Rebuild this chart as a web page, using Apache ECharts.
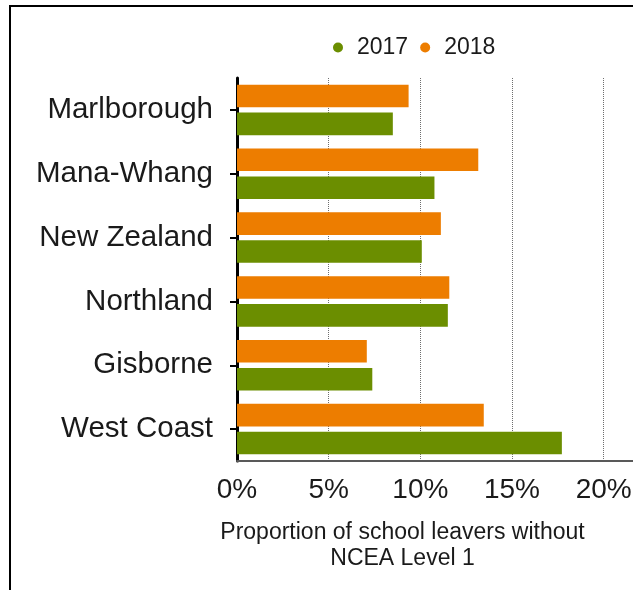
<!DOCTYPE html>
<html>
<head>
<meta charset="utf-8">
<script src="https://cdn.jsdelivr.net/npm/echarts@6/dist/echarts.min.js"></script>
<style>
  html, body { margin: 0; padding: 0; background: #fff; }
  #chart { width: 633px; height: 590px; }
</style>
</head>
<body>
<div id="chart"></div>
<script>
const categories = ['Marlborough', 'Mana-Whang', 'New Zealand', 'Northland', 'Gisborne', 'West Coast'];
const values2017 = [8.5, 10.77, 10.08, 11.5, 7.38, 17.72];
const values2018 = [9.36, 13.16, 11.12, 11.58, 7.08, 13.46];
const seriesNames = ['2017', '2018'];
const axisTitle = 'Proportion of school leavers without\nNCEA Level 1';

const FONT = '"Liberation Sans", Arial, sans-serif';
const GREEN = '#6B8E00';
const ORANGE = '#ED7D00';

const chart = echarts.init(document.getElementById('chart'), null, { renderer: 'canvas' });
chart.setOption({
  animation: false,
  backgroundColor: '#ffffff',
  textStyle: { fontFamily: FONT },
  graphic: [{
    type: 'rect',
    z: -10,
    shape: { x: 10, y: 6, width: 800, height: 800 },
    style: { fill: 'none', stroke: '#000', lineWidth: 2 }
  }],
  legend: {
    data: seriesNames,
    left: 328,
    top: 31,
    icon: 'circle',
    itemWidth: 10,
    itemHeight: 10,
    itemGap: 12,
    textStyle: { fontSize: 23, color: '#1a1a1a', fontFamily: FONT, padding: [0, 0, 0, 9] }
  },
  grid: { left: 237, right: 0, top: 78, bottom: 129, containLabel: false, outerBoundsMode: 'none' },
  xAxis: {
    type: 'value',
    min: 0,
    max: 21.6,
    interval: 5,
    name: axisTitle,
    nameLocation: 'middle',
    nameGap: 58,
    nameTextStyle: { fontSize: 23, lineHeight: 26.5, color: '#1a1a1a', fontFamily: FONT, padding: [0, 65, 0, 0] },
    axisLine: { show: true, lineStyle: { color: '#595959', width: 2 } },
    axisTick: { show: false },
    axisLabel: {
      fontSize: 28, color: '#1a1a1a', margin: 15, fontFamily: FONT,
      formatter: v => (Math.abs(v % 5) < 1e-9 ? v + '%' : '')
    },
    splitLine: { show: true, lineStyle: { color: '#6e6e6e', width: 1, type: [1, 1] } }
  },
  yAxis: {
    type: 'category',
    data: categories,
    inverse: true,
    axisLine: { show: true, lineStyle: { color: '#000', width: 3 } },
    axisTick: { show: true, alignWithLabel: true, length: 7, lineStyle: { color: '#000', width: 2 } },
    axisLabel: { fontSize: 29.5, color: '#1a1a1a', margin: 24, fontFamily: FONT, padding: [6, 0, 0, 0] }
  },
  series: [
    { name: '2018', type: 'bar', data: values2018, itemStyle: { color: ORANGE }, barGap: '24%', barCategoryGap: '21%' },
    { name: '2017', type: 'bar', data: values2017, itemStyle: { color: GREEN }, barGap: '24%', barCategoryGap: '21%' }
  ]
});
</script>
</body>
</html>
